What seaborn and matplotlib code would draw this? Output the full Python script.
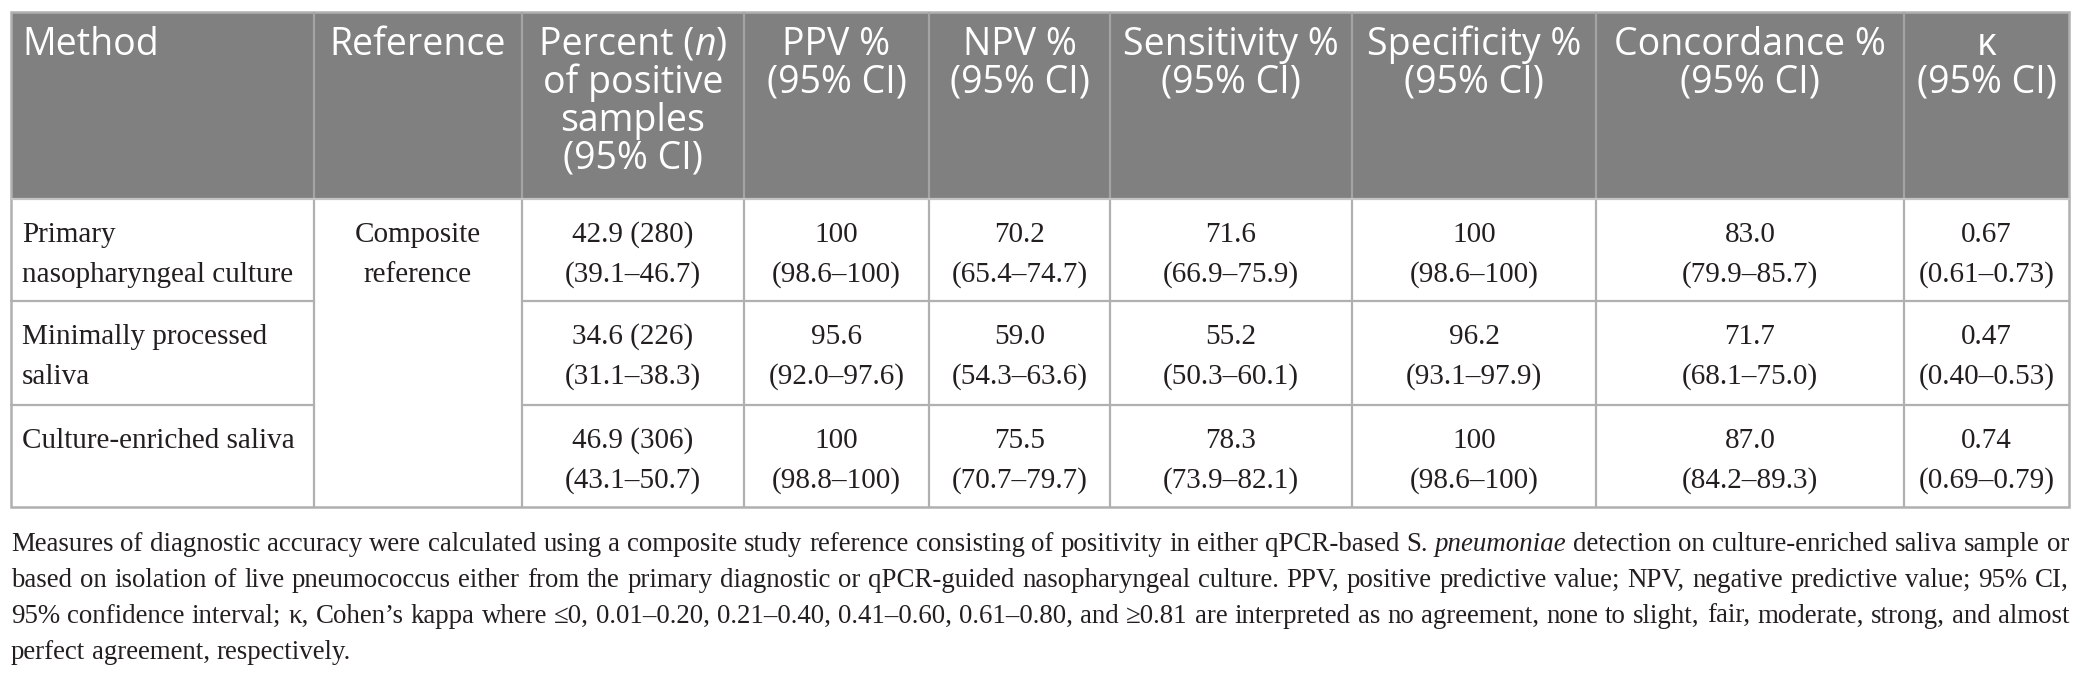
import matplotlib
matplotlib.use("Agg")
import matplotlib.pyplot as plt
from matplotlib.patches import Rectangle
import seaborn as sns

# ---------------- data ----------------
header_lines = [
    ["Method"],
    ["Reference"],
    ["Percent (*n*)", "of positive", "samples", "(95% CI)"],
    ["PPV %", "(95% CI)"],
    ["NPV %", "(95% CI)"],
    ["Sensitivity %", "(95% CI)"],
    ["Specificity %", "(95% CI)"],
    ["Concordance %", "(95% CI)"],
    ["\u03ba", "(95% CI)"],
]
methods = [["Primary", "nasopharyngeal culture"],
           ["Minimally processed", "saliva"],
           ["Culture-enriched saliva"]]
reference_label = ["Composite", "reference"]

pct_pos = [42.9, 34.6, 46.9]
n_pos = [280, 226, 306]
pct_pos_ci = [(39.1, 46.7), (31.1, 38.3), (43.1, 50.7)]
ppv = [100, 95.6, 100]
ppv_ci = [(98.6, 100), (92.0, 97.6), (98.8, 100)]
npv = [70.2, 59.0, 75.5]
npv_ci = [(65.4, 74.7), (54.3, 63.6), (70.7, 79.7)]
sensitivity = [71.6, 55.2, 78.3]
sensitivity_ci = [(66.9, 75.9), (50.3, 60.1), (73.9, 82.1)]
specificity = [100, 96.2, 100]
specificity_ci = [(98.6, 100), (93.1, 97.9), (98.6, 100)]
concordance = [83.0, 71.7, 87.0]
concordance_ci = [(79.9, 85.7), (68.1, 75.0), (84.2, 89.3)]
kappa = [0.67, 0.47, 0.74]
kappa_ci = [(0.61, 0.73), (0.40, 0.53), (0.69, 0.79)]

footnote_lines = [
    "Measures of diagnostic accuracy were calculated using a composite study reference consisting of positivity in either qPCR-based S. *pneumoniae* detection on culture-enriched saliva sample or",
    "based on isolation of live pneumococcus either from the primary diagnostic or qPCR-guided nasopharyngeal culture. PPV, positive predictive value; NPV, negative predictive value; 95% CI,",
    "95% confidence interval; \u03ba, Cohen\u2019s kappa where \u22640, 0.01\u20130.20, 0.21\u20130.40, 0.41\u20130.60, 0.61\u20130.80, and \u22650.81 are interpreted as no agreement, none to slight, fair, moderate, strong, and almost",
    "perfect agreement, respectively.",
]

# ---------------- layout (pixels) ----------------
W, H = 2084, 680
col_edges = [11, 314, 522, 744, 929, 1110, 1352, 1596, 1904, 2069]
row_edges = [12, 199, 301, 405, 507]
head_base0, head_step = 55, 38
body_off1, body_off2 = 43, 83
foot_base0, foot_step = 551, 36

HEAD_BG = "#808080"
HEAD_SEP = "#a4a4a4"
GRID = "#b0b0b0"
TXT = "#231f20"

sns.set_theme(style="white")
plt.rcParams["font.family"] = ["Liberation Serif", "DejaVu Serif"]

fig = plt.figure(figsize=(W / 100, H / 100), dpi=100)
ax = fig.add_axes([0, 0, 1, 1])
ax.set_xlim(0, W)
ax.set_ylim(H, 0)
ax.axis("off")
renderer = fig.canvas.get_renderer()

HEAD_KW = dict(family=["Open Sans", "DejaVu Sans"], size=27, color="white")
BODY_KW = dict(family=["Liberation Serif", "DejaVu Serif"], size=21, color=TXT)
FOOT_KW = dict(family=["Liberation Serif", "DejaVu Serif"], size=19.4, color=TXT)


def parse_runs(s):
    parts = s.split("*")
    return [(p, i % 2 == 1) for i, p in enumerate(parts) if p]


def draw_runs(x, y, s, ha, kw):
    runs = parse_runs(s)
    texts, widths = [], []
    for txt, it in runs:
        t = ax.text(0, y, txt, va="baseline", ha="left",
                    style="italic" if it else "normal", **kw)
        widths.append(t.get_window_extent(renderer).width)
        texts.append(t)
    total = sum(widths)
    start = x - total / 2 if ha == "center" else x
    for t, w in zip(texts, widths):
        t.set_x(start)
        start += w


# header background
ax.add_patch(Rectangle((col_edges[0], row_edges[0]), col_edges[-1] - col_edges[0],
                       row_edges[1] - row_edges[0], facecolor=HEAD_BG, edgecolor="none"))

# header texts
for ci, lines in enumerate(header_lines):
    x0, x1 = col_edges[ci], col_edges[ci + 1]
    for li, line in enumerate(lines):
        y = head_base0 + li * head_step
        if ci == 0:
            draw_runs(x0 + 11, y, line, "left", HEAD_KW)
        else:
            draw_runs((x0 + x1) / 2, y, line, "center", HEAD_KW)


def fmt(v):
    return "100" if v == 100 else f"{v:.1f}"


def fmt_ci(lo, hi, k=False):
    if k:
        return f"({lo:.2f}\u2013{hi:.2f})"
    return f"({fmt(lo)}\u2013{fmt(hi)})"


for r in range(3):
    top = row_edges[r + 1]
    y1, y2 = top + body_off1, top + body_off2
    for li, line in enumerate(methods[r]):
        draw_runs(col_edges[0] + 11, top + (body_off1 if li == 0 else body_off2), line, "left", BODY_KW)
    cells = [
        (f"{pct_pos[r]:.1f} ({n_pos[r]})", fmt_ci(*pct_pos_ci[r])),
        (fmt(ppv[r]), fmt_ci(*ppv_ci[r])),
        (fmt(npv[r]), fmt_ci(*npv_ci[r])),
        (fmt(sensitivity[r]), fmt_ci(*sensitivity_ci[r])),
        (fmt(specificity[r]), fmt_ci(*specificity_ci[r])),
        (fmt(concordance[r]), fmt_ci(*concordance_ci[r])),
        (f"{kappa[r]:.2f}", fmt_ci(*kappa_ci[r], k=True)),
    ]
    for j, (a, b) in enumerate(cells):
        ci = j + 2
        xc = (col_edges[ci] + col_edges[ci + 1]) / 2
        draw_runs(xc, y1, a, "center", BODY_KW)
        draw_runs(xc, y2, b, "center", BODY_KW)

# reference (merged cell)
for li, line in enumerate(reference_label):
    xc = (col_edges[1] + col_edges[2]) / 2
    draw_runs(xc, row_edges[1] + (body_off1 if li == 0 else body_off2), line, "center", BODY_KW)

# grid lines
lw = 1.6
for x in col_edges[1:-1]:
    ax.plot([x, x], [row_edges[0], row_edges[1]], color=HEAD_SEP, lw=lw, solid_capstyle="butt")
    ax.plot([x, x], [row_edges[1], row_edges[-1]], color=GRID, lw=lw, solid_capstyle="butt")
ax.plot([col_edges[0], col_edges[-1]], [row_edges[1]] * 2, color="#c4c4c4", lw=lw)
for y in row_edges[2:-1]:
    ax.plot([col_edges[0], col_edges[1]], [y, y], color=GRID, lw=lw)
    ax.plot([col_edges[2], col_edges[-1]], [y, y], color=GRID, lw=lw)
ax.add_patch(Rectangle((col_edges[0], row_edges[0]), col_edges[-1] - col_edges[0],
                       row_edges[-1] - row_edges[0], facecolor="none", edgecolor=GRID, lw=1.8))

# footnote, justified
for li, line in enumerate(footnote_lines):
    y = foot_base0 + li * foot_step
    words = line.split(" ")
    texts, widths = [], []
    for wd in words:
        runs = parse_runs(wd)
        grp = []
        wsum = 0
        for txt, it in runs:
            t = ax.text(0, y, txt, va="baseline", ha="left",
                        style="italic" if it else "normal", **FOOT_KW)
            w = t.get_window_extent(renderer).width
            grp.append((t, w))
            wsum += w
        texts.append(grp)
        widths.append(wsum)
    x0, x1 = col_edges[0], col_edges[-1]
    if li < len(footnote_lines) - 1:
        gap = (x1 - x0 - sum(widths)) / (len(words) - 1)
    else:
        sp = ax.text(0, y, "a a", **FOOT_KW)
        sp2 = ax.text(0, y, "aa", **FOOT_KW)
        gap = sp.get_window_extent(renderer).width - sp2.get_window_extent(renderer).width
        sp.remove(); sp2.remove()
    x = x0
    for grp, w in zip(texts, widths):
        xx = x
        for t, ww in grp:
            t.set_x(xx)
            xx += ww
        x += w + gap

fig.savefig("out.png", dpi=100, facecolor="white")
